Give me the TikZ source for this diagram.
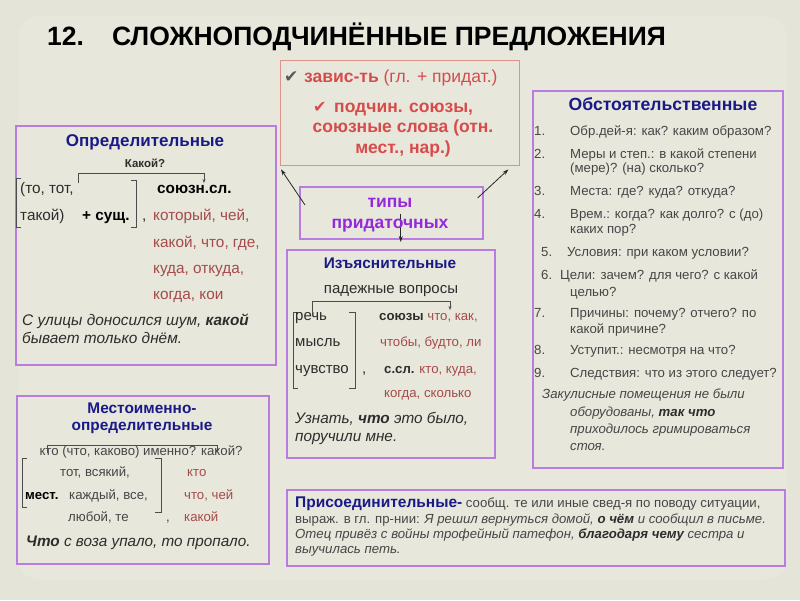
\documentclass[tikz,border=0pt]{standalone}
\usepackage{fontspec}
\setmainfont{Liberation Sans}
\newfontfamily\symfont{DejaVu Sans}
\usetikzlibrary{arrows.meta,calc}
\definecolor{bgc}{RGB}{228,228,216}
\definecolor{panelc}{RGB}{231,231,220}
\definecolor{boxpurple}{RGB}{185,125,225}
\definecolor{boxred}{RGB}{225,145,135}
\definecolor{navy}{RGB}{25,25,135}
\definecolor{redt}{RGB}{215,75,75}
\definecolor{brownred}{RGB}{165,75,75}
\definecolor{purt}{RGB}{150,40,220}
\definecolor{bodyc}{RGB}{45,45,45}
\definecolor{greyc}{RGB}{70,70,70}
\newcommand\fsz[1]{\fontsize{#1}{#1}\selectfont}
\tikzset{
  pbox/.style={draw=boxpurple, line width=1.6pt, anchor=north west, inner sep=0pt},
  rbox/.style={draw=boxred, line width=1.4pt, anchor=north west, inner sep=0pt},
  t/.style={anchor=base west, inner sep=0pt, text=bodyc},
  tc/.style={anchor=base, inner sep=0pt, text=bodyc},
  link/.style={-{Stealth[length=6pt,width=4pt]}, line width=0.8pt, draw=black!85},
  brk/.style={line width=0.8pt, draw=black!70},
  brkarrow/.style={line width=0.8pt, draw=black!70, -{Stealth[length=4pt,width=3pt]}},
}
\begin{document}
\begin{tikzpicture}[x=1pt,y=-1pt]
\useasboundingbox (0,0) rectangle (800,600);
\fill[bgc] (0,0) rectangle (800,600);
\fill[panelc, rounded corners=22pt] (18,16) rectangle (787,580);

% title
\node[t, text=black, font=\fsz{26.5}\bfseries] (ttl1) at (47,45) {12.};
\node[t, text=black, font=\fsz{26.5}\bfseries] (ttl2) at (112,45) {СЛОЖНОПОДЧИНЁННЫЕ ПРЕДЛОЖЕНИЯ};

% boxes
\node[rbox, minimum width=239, minimum height=105] (red) at (280,60) {};
\node[pbox, minimum width=260, minimum height=239] (opr) at (15,125) {};
\node[pbox, minimum width=183, minimum height=52] (tipy) at (299,186) {};
\node[pbox, minimum width=208, minimum height=208] (izy) at (286,249) {};
\node[pbox, minimum width=250, minimum height=377] (obst) at (532,90) {};
\node[pbox, minimum width=252, minimum height=168] (mest) at (16,395) {};
\node[pbox, minimum width=498, minimum height=76] (pris) at (286,489) {};

% connectors
\draw[link] ($(tipy.north west)+(6,19)$) -- ($(red.south west)+(1,3)$);
\draw[link] ($(tipy.north east)+(-6,12)$) -- ($(red.south east)+(-12,3)$);
\draw[link] ($(tipy.south)+(9.5,-26)$) -- ($(izy.north)+(10,-7)$);

% red box text
\node[t, text=black!65, font=\fsz{17}\symfont] (r0) at (284,82) {✔};
\node[t, text=redt, font=\fsz{17.5}] (r1) at (304,82) {\textbf{завис-ть} (гл. + придат.)};
\node[t, text=redt, font=\fsz{16}\symfont] (r2a) at (313,112) {✔};
\node[t, text=redt, font=\fsz{17.5}\bfseries] (r2) at (334,112) {подчин. союзы,};
\node[tc, text=redt, font=\fsz{17.5}\bfseries] (r3) at (403,132) {союзные слова (отн.};
\node[tc, text=redt, font=\fsz{17.5}\bfseries] (r4) at (403,153) {мест., нар.)};

% tipy
\node[tc, text=purt, font=\fsz{17.5}\bfseries] (tp1) at (390,207) {типы};
\node[tc, text=purt, font=\fsz{17.5}\bfseries] (tp2) at (390,228) {придаточных};

% Определительные
\node[tc, text=navy, font=\fsz{17}\bfseries] (oT) at (145,146) {Определительные};
\node[tc, font=\fsz{11.5}\bfseries] (oq) at (145,167) {Какой?};
\coordinate (oa1) at (78,183); \coordinate (oa2) at (204,183);
\draw[brkarrow] (oa1) -- ++(0,-10) -| (oa2);
\draw[brk] (21,178) -- (16,178) -- (16,227) -- (21,227);
\draw[brk] (131,180) -- (136,180) -- (136,227) -- (131,227);
\node[t, font=\fsz{15.3}] (o1) at (20,193) {(то, тот,};
\node[t, font=\fsz{15.3}\bfseries, text=black] (o2) at (157,193) {союзн.сл.};
\node[t, font=\fsz{15.3}] (o3) at (20,220) {такой)};
\node[t, font=\fsz{15.3}\bfseries, text=black] (o4) at (82,220) {+ сущ.};
\node[t, font=\fsz{15.3}] (o5) at (142,220) {,};
\node[t, font=\fsz{15.3}, text=brownred] (o6) at (153,220) {который, чей,};
\node[t, font=\fsz{15.3}, text=brownred] (o7) at (153,247) {какой, что, где,};
\node[t, font=\fsz{15.3}, text=brownred] (o8) at (153,273) {куда, откуда,};
\node[t, font=\fsz{15.3}, text=brownred] (o9) at (153,299) {когда, кои};
\node[t, font=\fsz{15.4}\itshape] (o10) at (22,325) {С улицы доносился шум, \textbf{какой}};
\node[t, font=\fsz{15.4}\itshape] (o11) at (22,343) {бывает только днём.};

% Изъяснительные
\node[tc, text=navy, font=\fsz{15.4}\bfseries] (iT) at (390,268) {Изъяснительные};
\node[tc, font=\fsz{15}] (iq) at (391,293) {падежные вопросы};
\coordinate (ia1) at (312,312); \coordinate (ia2) at (450,310);
\draw[brkarrow] (ia1) -- (312,301) -| (ia2);
\draw[brk] (298,312) -- (293,312) -- (293,388) -- (298,388);
\draw[brk] (349,312) -- (355,312) -- (355,388) -- (349,388);
\node[t, font=\fsz{15}] (i1) at (295,320) {речь};
\node[t, font=\fsz{13.2}] (i2) at (379,320) {\textbf{союзы} \textcolor{brownred}{что, как,}};
\node[t, font=\fsz{15}] (i3) at (295,346) {мысль};
\node[t, font=\fsz{13.2}, text=brownred] (i4) at (380,346) {чтобы, будто, ли};
\node[t, font=\fsz{15}] (i5) at (295,373) {чувство};
\node[t, font=\fsz{15}] (i6) at (362,373) {,};
\node[t, font=\fsz{13.2}] (i7) at (384,373) {\textbf{с.сл.} \textcolor{brownred}{кто, куда,}};
\node[t, font=\fsz{13.2}, text=brownred] (i8) at (384,397) {когда, сколько};
\node[t, font=\fsz{15.3}\itshape] (i9) at (295,423) {Узнать, \textbf{что} это было,};
\node[t, font=\fsz{15.3}\itshape] (i10) at (295,441) {поручили мне.};

% Обстоятельственные
\node[tc, text=navy, font=\fsz{17.6}\bfseries] (bT) at (663,110) {Обстоятельственные};
\node[t, font=\fsz{13.2}, text=greyc] (b1n) at (534,135) {1.};
\node[t, font=\fsz{13.2}, text=greyc] (b1) at (570,135) {Обр.дей-я: как? каким образом?};
\node[t, font=\fsz{13.2}, text=greyc] (b2n) at (534,158) {2.};
\node[t, font=\fsz{13.2}, text=greyc] (b2) at (570,158) {Меры и степ.: в какой степени};
\node[t, font=\fsz{13.2}, text=greyc] (b2b) at (570,172) {(мере)? (на) сколько?};
\node[t, font=\fsz{13.2}, text=greyc] (b3n) at (534,195) {3.};
\node[t, font=\fsz{13.2}, text=greyc] (b3) at (570,195) {Места: где? куда? откуда?};
\node[t, font=\fsz{13.2}, text=greyc] (b4n) at (534,218) {4.};
\node[t, font=\fsz{13.2}, text=greyc] (b4) at (570,218) {Врем.: когда? как долго? с (до)};
\node[t, font=\fsz{13.2}, text=greyc] (b4b) at (570,233) {каких пор?};
\node[t, font=\fsz{13.2}, text=greyc] (b5n) at (541,256) {5.};
\node[t, font=\fsz{13.2}, text=greyc] (b5) at (567,256) {Условия: при каком условии?};
\node[t, font=\fsz{13.2}, text=greyc] (b6n) at (541,279) {6.};
\node[t, font=\fsz{13.2}, text=greyc] (b6) at (560,279) {Цели: зачем? для чего? с какой};
\node[t, font=\fsz{13.2}, text=greyc] (b6b) at (570,296) {целью?};
\node[t, font=\fsz{13.2}, text=greyc] (b7n) at (534,317) {7.};
\node[t, font=\fsz{13.2}, text=greyc] (b7) at (570,317) {Причины: почему? отчего? по};
\node[t, font=\fsz{13.2}, text=greyc] (b7b) at (570,333) {какой причине?};
\node[t, font=\fsz{13.2}, text=greyc] (b8n) at (534,354) {8.};
\node[t, font=\fsz{13.2}, text=greyc] (b8) at (570,354) {Уступит.: несмотря на что?};
\node[t, font=\fsz{13.2}, text=greyc] (b9n) at (534,377) {9.};
\node[t, font=\fsz{13.2}, text=greyc] (b9) at (570,377) {Следствия: что из этого следует?};
\node[t, font=\fsz{13.2}\itshape, text=greyc] (b10) at (542,398) {Закулисные помещения не были};
\node[t, font=\fsz{13.2}\itshape, text=greyc] (b11) at (570,416) {оборудованы, \textbf{\color{bodyc}так что}};
\node[t, font=\fsz{13.2}\itshape, text=greyc] (b12) at (570,433) {приходилось гримироваться};
\node[t, font=\fsz{13.2}\itshape, text=greyc] (b13) at (570,450) {стоя.};

% Местоименно-определительные
\node[tc, text=navy, font=\fsz{15.4}\bfseries] (mT1) at (142,413) {Местоименно-};
\node[tc, text=navy, font=\fsz{15.4}\bfseries] (mT2) at (142,430) {определительные};
\node[tc, font=\fsz{13.2}, text=greyc] (mq) at (141,455) {кто (что, каково) именно? какой?};
\coordinate (ma1) at (47,453); \coordinate (ma2) at (217,453);
\draw[brkarrow] (ma1) -- (47,445) -| (ma2);
\draw[brk] (27,458) -- (22,458) -- (22,507) -- (27,507);
\draw[brk] (155,458) -- (161,458) -- (161,512) -- (155,512);
\node[t, font=\fsz{13.2}, text=greyc] (m1) at (60,476) {тот, всякий,};
\node[t, font=\fsz{13.2}, text=brownred] (m2) at (187,476) {кто};
\node[t, font=\fsz{13.2}\bfseries, text=black] (m3) at (25,499) {мест.};
\node[t, font=\fsz{13.2}, text=greyc] (m4) at (69,499) {каждый, все,};
\node[t, font=\fsz{13.2}, text=brownred] (m5) at (184,499) {что, чей};
\node[t, font=\fsz{13.2}, text=greyc] (m6) at (68,521) {любой, те};
\node[t, font=\fsz{13.2}, text=greyc] (m7) at (166,521) {,};
\node[t, font=\fsz{13.2}, text=brownred] (m8) at (184,521) {какой};
\node[t, font=\fsz{15.3}\itshape] (m9) at (26,546) {\textbf{Что} с воза упало, то пропало.};

% Присоединительные
\node[t, font=\fsz{13.2}, text=greyc] (p1) at (295,507) {{\fsz{15.5}\bfseries\color{navy}Присоединительные-} сообщ. те или иные свед-я по поводу ситуации,};
\node[t, font=\fsz{13.2}, text=greyc] (p2) at (295,523) {выраж. в гл. пр-нии: \textit{Я решил вернуться домой, \textbf{\color{bodyc}о чём} и сообщил в письме.}};
\node[t, font=\fsz{13.2}\itshape, text=greyc] (p3) at (295,538) {Отец привёз с войны трофейный патефон, \textbf{\color{bodyc}благодаря чему} сестра и};
\node[t, font=\fsz{13.2}\itshape, text=greyc] (p4) at (295,553) {выучилась петь.};
\end{tikzpicture}
\end{document}
